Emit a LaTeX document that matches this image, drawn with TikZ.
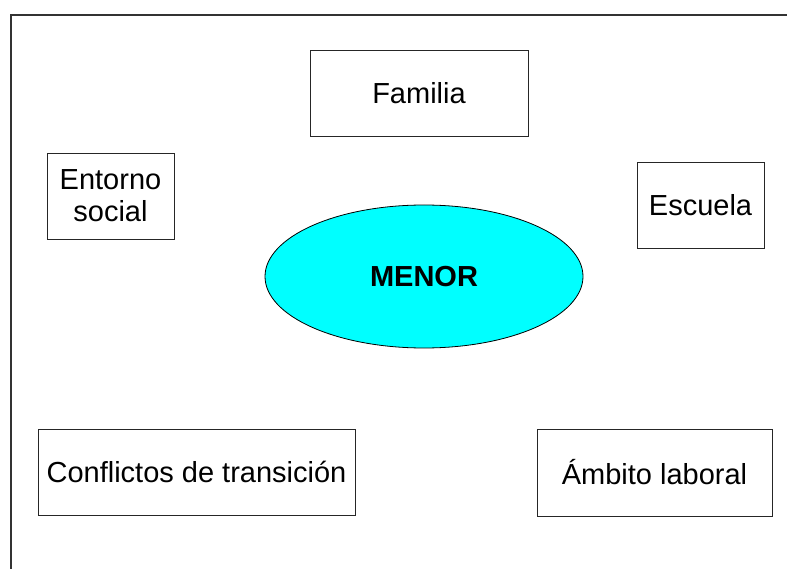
\documentclass[tikz,border=0pt]{standalone}
\usepackage{fontspec}
\setmainfont{Liberation Sans}
\usetikzlibrary{shapes.geometric}
\definecolor{aqua}{RGB}{0,255,255}
\begin{document}
\begin{tikzpicture}[x=1pt, y=-1pt]
	\tikzstyle{box} = [rectangle, draw = black!85, line width=0.9pt, inner sep=0pt, align=center, font=\fontsize{29}{32}\selectfont]
\tikzstyle{centre} = [ellipse, draw = black, fill = aqua, line width=0.8pt, inner sep=0pt, font=\fontsize{29}{32}\selectfont\bfseries]
\useasboundingbox (0,0) rectangle (787,569);
\draw[line width=1.2pt, black!80] (787,15) -- (11,15) -- (11,569);
\node(menor)[centre, minimum width=318pt, minimum height=143pt] at (424,276.5) {MENOR};
\node(familia)[box, minimum width=218pt, minimum height=86pt] at (419,93) {Familia};
\node(entorno)[box, minimum width=127pt, minimum height=86pt] at (110.5,196) {Entorno\\social};
\node(escuela)[box, minimum width=127pt, minimum height=86pt] at (700.5,205) {Escuela};
\node(conflictos)[box, minimum width=317pt, minimum height=86pt] at (196.5,472) {Conflictos de transición};
\node(ambito)[box, minimum width=235pt, minimum height=87pt] at (654.5,472.5) {Ámbito laboral};
  \end{tikzpicture}
\end{document}
